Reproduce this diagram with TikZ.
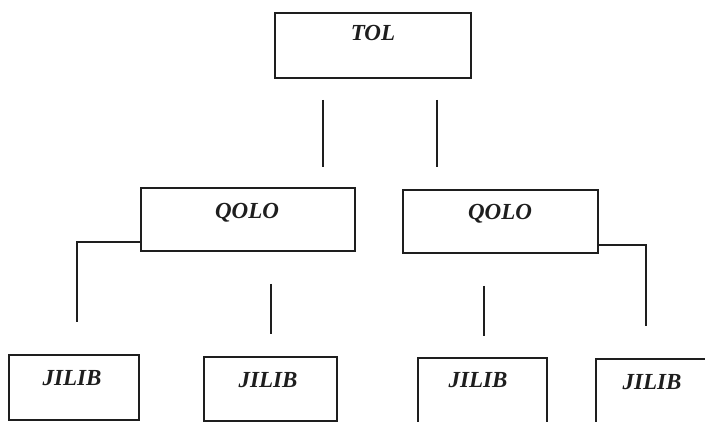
\documentclass[tikz,border=0pt]{standalone}
\usepackage{fontspec}
\setmainfont{Liberation Serif}
\usetikzlibrary{calc}
\definecolor{ink}{HTML}{1E1E1E}
\tikzset{
  box/.style={draw=ink, line width=1.5pt, rectangle, inner sep=0pt},
  lbl/.style={inner sep=0pt, anchor=base, text=ink,
    font=\fontsize{23}{25}\selectfont\bfseries\itshape},
  link/.style={draw=ink, line width=1.6pt}
}
\begin{document}
\begin{tikzpicture}[x=1pt, y=-1pt]
\useasboundingbox (0,0) rectangle (705,422);
\clip (0,0) rectangle (705,422);

% boxes
\node[box, minimum width=196pt, minimum height=65pt] (tol) at (373,45.5) {};
\node[box, minimum width=214pt, minimum height=63pt] (qoloL) at (248,219.5) {};
\node[box, minimum width=195pt, minimum height=63pt] (qoloR) at (500.5,221.5) {};
\node[box, minimum width=130pt, minimum height=65pt] (j1) at (74,387.5) {};
\node[box, minimum width=133pt, minimum height=64pt] (j2) at (270.5,389) {};
\node[box, minimum width=129pt, minimum height=68pt] (j3) at (482.5,392) {};
\node[box, minimum width=130pt, minimum height=68pt] (j4) at (661,393) {};

% labels
\node[lbl] (tolt) at (373,41) {TOL};
\node[lbl] (qoloLt) at (247,219) {QOLO};
\node[lbl] (qoloRt) at (500,220) {QOLO};
\node[lbl] (j1t) at (72,386) {JILIB};
\node[lbl] (j2t) at (268,388) {JILIB};
\node[lbl] (j3t) at (478,388) {JILIB};
\node[lbl] (j4t) at (652,389) {JILIB};

% free line ends
\coordinate (a1) at (323,100); \coordinate (a2) at (323,167);
\coordinate (b1) at (437,100); \coordinate (b2) at (437,167);
\coordinate (cL) at ($(qoloL.south west)+(0,-10)$);
\coordinate (cLb) at (77,322);
\coordinate (d1) at (271,284); \coordinate (d2) at (271,334);
\coordinate (e1) at (484,286); \coordinate (e2) at (484,336);
\coordinate (cR) at ($(qoloR.south east)+(0,-9)$);
\coordinate (cRb) at (646,326);

% connectors
\draw[link] (a1) -- (a2);
\draw[link] (b1) -- (b2);
\draw[link] (cL) -| (cLb);
\draw[link] (d1) -- (d2);
\draw[link] (e1) -- (e2);
\draw[link] (cR) -| (cRb);
\end{tikzpicture}
\end{document}
